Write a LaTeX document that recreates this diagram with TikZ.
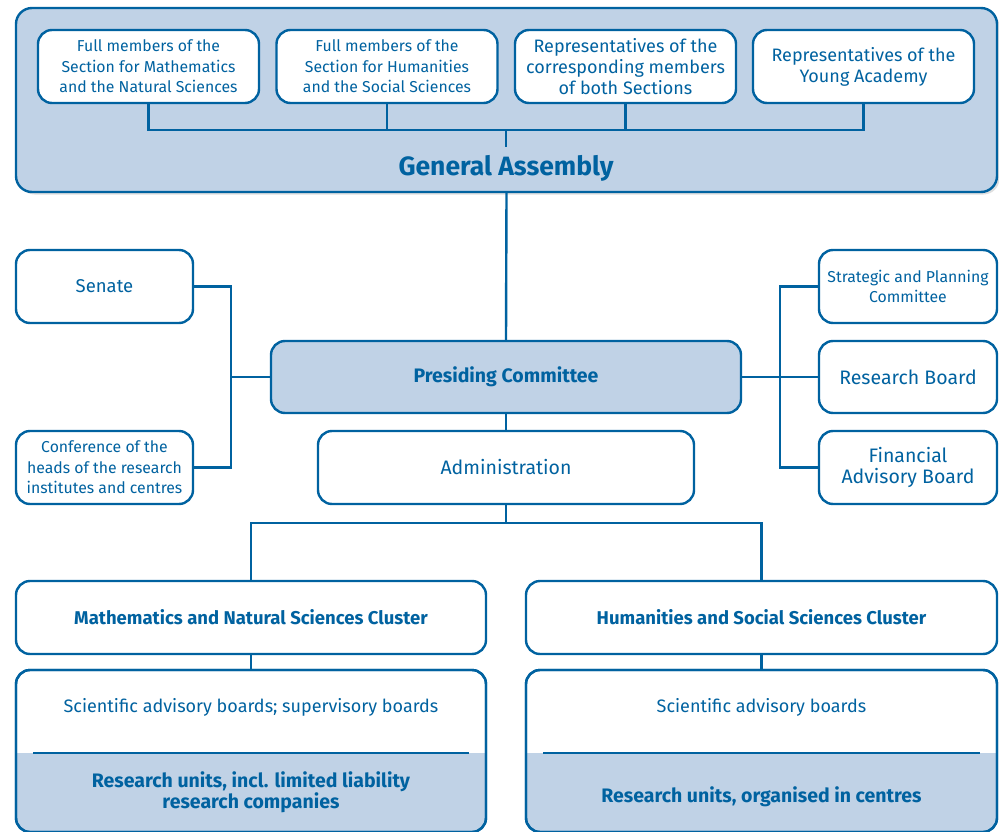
\documentclass[tikz,border=0pt]{standalone}
\usepackage{fontspec}
\setsansfont{Fira Sans}
\renewcommand{\familydefault}{\sfdefault}
\usetikzlibrary{shadows}
\definecolor{acadblue}{RGB}{0,98,160}
\definecolor{acadpale}{RGB}{192,210,230}

\begin{document}
\begin{tikzpicture}[x=1pt, y=-1pt, line width=2.4pt]
\tikzset{
  every box/.style={
    draw=acadblue,
    fill=white,
    rounded corners=14pt,
    align=center,
    text=acadblue,
    inner sep=0pt
  },
  pale box/.style={
    every box,
    fill=acadpale
  },
  unit box/.style={
    every box,
    outer sep=0pt,
    minimum width=470, minimum height=162,
    path picture={
      \fill[acadpale, sharp corners] (path picture bounding box.south west) rectangle ([yshift=79pt]path picture bounding box.south east);
      \draw[acadblue, line width=2.4pt] ([xshift=17pt,yshift=79pt]path picture bounding box.south west) -- ([xshift=-17pt,yshift=79pt]path picture bounding box.south east);
    }
  },
  small text/.style={font=\fontsize{15.8}{20.5}\selectfont},
  mid text/.style={font=\fontsize{18}{21}\selectfont},
  big text/.style={font=\fontsize{19.5}{21}\selectfont},
  link/.style={draw=acadblue, line width=2.4pt}
}
\useasboundingbox (0,0) rectangle (999,832);

% general assembly
\node [pale box, rounded corners=16pt, minimum width=981, minimum height=184,
  drop shadow={shadow xshift=2.5pt, shadow yshift=-2.5pt, opacity=0.25}] (assembly) at (506.5,100) {};
\node [text=acadblue, font=\fontsize{26.5}{28}\selectfont\bfseries] (assembly-label) at (506,168) {General Assembly};

\foreach \m/\x/\sz/\txt in {
  mathsec/148.5/small/{Full members of the\\Section for Mathematics\\and the Natural Sciences},
  humsec/387/small/{Full members of the\\Section for Humanities\\and the Social Sciences},
  corresp/625.5/mid/{Representatives of the\\corresponding members\\of both Sections},
  young/863.5/mid/{Representatives of the\\Young Academy}}
  \node [every box, \sz\space text, minimum width=221, minimum height=73] (top-\m) at (\x,66.5) {\txt};

\coordinate (assembly-bus) at (506,130);
\draw [link] (top-mathsec.south) |- (assembly-bus) -| (top-young.south);
\foreach \m in {humsec,corresp}
  \draw [link] (top-\m.south) -- (top-\m.south |- assembly-bus);
\draw [link] (assembly-bus) -- ++(0,17);

% presiding committee and boards
\node [pale box, big text, minimum width=470, minimum height=72] (presiding) at (506,377) {\bfseries Presiding Committee};
\node [every box, big text, minimum width=376, minimum height=73] (admin) at (506,467.5) {Administration};

\node [every box, font=\fontsize{18.5}{21}\selectfont, minimum width=177, minimum height=73] (senate) at (104.5,286.5) {Senate};
\node [every box, small text, minimum width=177, minimum height=73] (conference) at (104.5,467.5) {Conference of the\\heads of the research\\institutes and centres};

\node [every box, small text, minimum width=178, minimum height=73] (strategic) at (908,286.5) {Strategic and Planning\\Committee};
\node [every box, big text, minimum width=178, minimum height=72] (research) at (908,377) {Research Board};
\node [every box, big text, minimum width=178, minimum height=73] (financial) at (908,467.5) {Financial\\Advisory Board};

\draw [link] (assembly.south) -- (presiding.north);
\draw [link] (presiding.south) -- (admin.north);

\coordinate (left-bus) at (231,377);
\draw [link] (senate.east) -| (left-bus) |- (conference.east);
\draw [link] (left-bus) -- (presiding.west);

\coordinate (right-bus) at (780,377);
\draw [link] (strategic.west) -| (right-bus) |- (financial.west);
\draw [link] (presiding.east) -- (research.west);

% clusters
\node [every box, font=\fontsize{18.5}{21}\selectfont\bfseries, minimum width=470, minimum height=73] (math-cluster) at (251,617.5) {Mathematics and Natural Sciences Cluster};
\node [every box, font=\fontsize{18.5}{21}\selectfont\bfseries, minimum width=471, minimum height=73] (hum-cluster) at (761.5,617.5) {Humanities and Social Sciences Cluster};

\coordinate (split) at (506,523);
\draw [link] (admin.south) -- (split);
\draw [link] (math-cluster.north) |- (split) -| (hum-cluster.north);

\node [unit box] (math-units) at (251,751) {};
\node [unit box, minimum width=471] (hum-units) at (761.5,751) {};
\foreach \u in {math-units,hum-units}
  \draw [link, rounded corners=14pt] (\u.south west) rectangle (\u.north east);
\draw [link] (math-cluster.south) -- (math-units.north);
\draw [link] (hum-cluster.south) -- (hum-units.north);

\node [text=acadblue, font=\fontsize{18}{21}\selectfont] (math-boards) at (251,707) {Scientific advisory boards; supervisory boards};
\node [text=acadblue, big text, align=center] (math-research) at (251,792.5) {\bfseries Research units, incl. limited liability\\\bfseries research companies};
\node [text=acadblue, font=\fontsize{18}{21}\selectfont] (hum-boards) at (761.5,707) {Scientific advisory boards};
\node [text=acadblue, big text] (hum-research) at (761.5,797) {\bfseries Research units, organised in centres};
\end{tikzpicture}
\end{document}
